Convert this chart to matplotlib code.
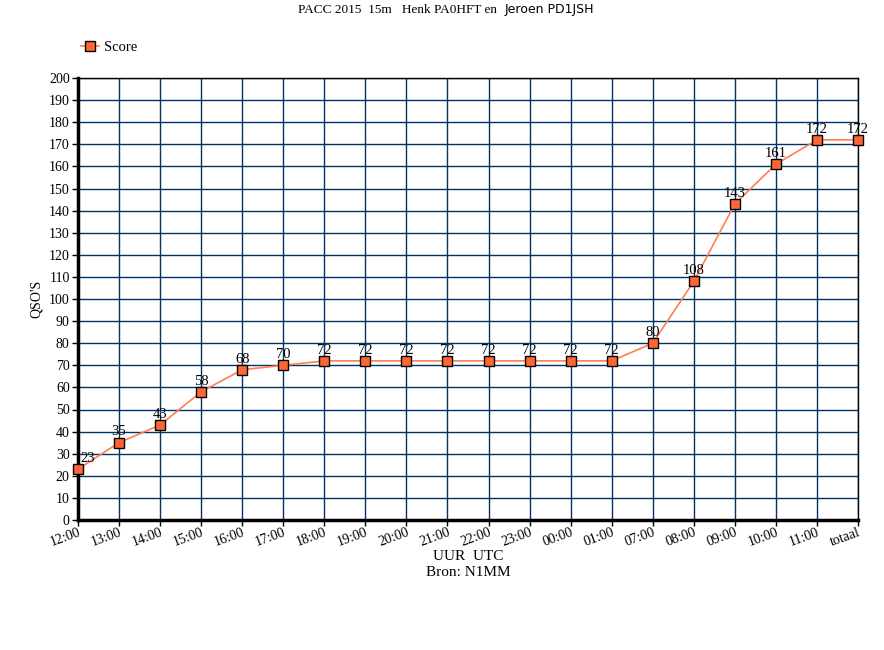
import matplotlib
matplotlib.use("Agg")
import matplotlib.pyplot as plt
from matplotlib.ticker import MultipleLocator

categories = ["12:00", "13:00", "14:00", "15:00", "16:00", "17:00", "18:00", "19:00",
              "20:00", "21:00", "22:00", "23:00", "00:00", "01:00", "07:00", "08:00",
              "09:00", "10:00", "11:00", "totaal"]
score = [23, 35, 43, 58, 68, 70, 72, 72, 72, 72, 72, 72, 72, 72, 80, 108, 143, 161, 172, 172]

plt.rcParams['font.family'] = ['Liberation Serif', 'DejaVu Serif']

W, H = 884, 650
fig = plt.figure(figsize=(W / 100, H / 100), dpi=100)
left, right, top, bottom = 78, 858, 78, 520
ax = fig.add_axes([left / W, 1 - bottom / H, (right - left) / W, (bottom - top) / H])

x = list(range(len(categories)))
line, = ax.plot(x, score, color='#FF7F50', lw=1.2, marker='s', markersize=7,
                markerfacecolor='#FF6633', markeredgecolor='black', markeredgewidth=1.0,
                label='Score', zorder=3, clip_on=False)

for xi, v in zip(x, score):
    ax.annotate(str(v), (xi, v), xytext=(0 if xi > 0 else 2, 3), textcoords='offset points',
                ha='center' if xi > 0 else 'left', va='bottom', fontsize=10.5)

ax.set_xlim(0, len(categories) - 1)
ax.set_ylim(0, 200)
ax.yaxis.set_major_locator(MultipleLocator(10))
ax.set_xticks(x)
ax.set_xticklabels(categories, rotation=20, ha='right', rotation_mode='anchor', fontsize=10)
ax.tick_params(axis='y', labelsize=10, length=4, width=1, pad=2)
ax.tick_params(axis='x', length=4, width=1, pad=0)
ax.grid(True, color='#003366', lw=1.0)
ax.set_axisbelow(True)
for s in ['top', 'right']:
    ax.spines[s].set_color('black')
    ax.spines[s].set_linewidth(1.0)
ax.spines['left'].set_linewidth(2.5)
ax.spines['bottom'].set_linewidth(2.5)

ax.set_ylabel('QSO\'S', fontsize=10, labelpad=4)
fig.text(468 / W, 1 - 557 / H, 'UUR  UTC', ha='center', va='center', fontsize=11)
fig.text(468 / W, 1 - 573 / H, 'Bron: N1MM', ha='center', va='center', fontsize=11)
fig.text(497 / W, 1 - 10 / H, 'PACC 2015  15m   Henk PA0HFT en',
         ha='right', va='center', fontsize=9.5)
fig.text(505 / W, 1 - 10 / H, 'Jeroen PD1JSH', family=['DejaVu Sans'],
         ha='left', va='center', fontsize=9)

fig.legend(handles=[line], labels=['Score'], loc='upper left',
           bbox_to_anchor=(68 / W, 1 - 28 / H), frameon=False, fontsize=10.5,
           handlelength=1.2, handletextpad=0.4)

fig.savefig('out.png', dpi=100)
